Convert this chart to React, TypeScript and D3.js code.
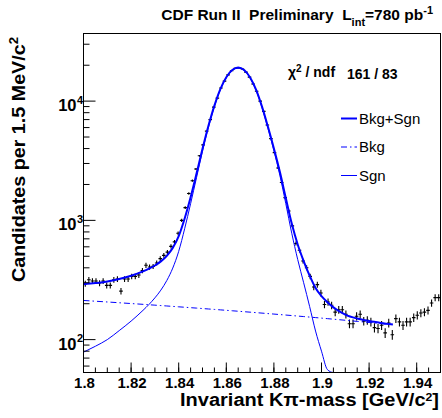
import React from "react";
import * as d3 from "d3";

// ---- data ----
const binStart = 1.8;
const binWidth = 0.0015;
const counts = [
  295, 318, 310, 310, 298, 310, 285, 285, 318, 322, 255, 322, 322, 339, 339, 348, 380, 420, 406, 411, 439, 478, 509, 542, 605,
  660, 780, 1000, 1280, 1680, 2150, 2700, 3480, 4300, 5600, 7000, 8900, 10600, 12900, 14700, 16600, 18000, 18800, 19000, 18600,
  17500, 15900, 13900, 12100, 10000, 8200, 6300, 4850, 3700, 2750, 2080, 1550, 1200, 900,
  640, 561, 456, 401, 339, 276, 289, 246, 197, 207, 194, 170, 178, 178, 163, 136, 136, 157, 163, 143, 145, 141, 126, 124, 132, 114,
  138, 110, 150, 141, 132, 141, 141, 153, 160, 167, 170, 176, 203, 225, 225,
];

const sgnMass = [
  1.8, 1.805, 1.81, 1.815, 1.82, 1.825, 1.8275, 1.83, 1.8325, 1.835, 1.8375, 1.84, 1.8425, 1.845, 1.8475, 1.85, 1.8525, 1.855,
  1.8575, 1.86, 1.8625, 1.865, 1.8675, 1.87, 1.8725, 1.875, 1.8775, 1.88, 1.8825, 1.885, 1.8875, 1.89, 1.8925, 1.895, 1.8975,
  1.9, 1.9025, 1.905, 1.9075, 1.91, 1.915, 1.92, 1.925, 1.93,
];
const sgnVals = [
  78.5, 88, 100, 119, 143, 176, 197, 224, 260, 313, 398, 550, 851, 1380, 2290, 3800, 6030, 8990,
  12450, 15700, 18070, 18920, 18040, 15640, 12320, 8830, 5920, 3840, 2390, 1380, 780, 470, 300, 190, 118,
  80, 56, 38, 26, 17, 8, 4, 2, 1,
];
const bkgMass = [1.8, 1.865, 1.93];
const bkgVals = [213, 173, 133];

const xMajorTicks = [1.8, 1.82, 1.84, 1.86, 1.88, 1.9, 1.92, 1.94];
const xTickLabels = ["1.8", "1.82", "1.84", "1.86", "1.88", "1.9", "1.92", "1.94"];
const yDecades = [2, 3, 4];
const legendItems = ["Bkg+Sgn", "Bkg", "Sgn"];

const FONT = "'Liberation Sans', Arial, Helvetica, sans-serif";
const BLUE = "#0000ff";

export default function App() {
  const L = 83.5, R = 440.5, T = 33.5, B = 372.5;
  const x = d3.scaleLinear().domain([1.8, 1.95]).range([L, R]);
  const y = d3.scaleLog().domain([53, 36900]).range([B, T]).clamp(true);

  const bkgAt = d3.scaleLinear().domain(bkgMass).range(bkgVals);
  const line = d3
    .line<[number, number]>()
    .x((d) => x(d[0]))
    .y((d) => y(d[1]))
    .curve(d3.curveMonotoneX);

  const totalPts: [number, number][] = sgnMass.map((m, i) => [m, sgnVals[i] + bkgAt(m)]);
  const sgnPts: [number, number][] = sgnMass.map((m, i) => [m, sgnVals[i]]);
  const bkgPts: [number, number][] = sgnMass.map((m) => [m, bkgAt(m)]);

  const xMinor = d3.range(0, 31).map((i) => 1.8 + i * 0.005);
  const yMinor: number[] = [];
  for (let e = 1; e <= 4; e++) for (let k = 2; k <= 9; k++) {
    const v = k * Math.pow(10, e);
    if (v >= 53 && v <= 36900) yMinor.push(v);
  }

  return (
    <svg width={442} height={418} style={{ display: "block", position: "absolute", left: 0, top: 0 }}>
      <rect x={0} y={0} width={442} height={418} fill="#fff" />
      <defs>
        <clipPath id="frameclip">
          <rect x={L} y={T} width={R - L} height={B - T + 1} />
        </clipPath>
      </defs>

      {/* data points with error bars */}
      <g stroke="#000" strokeWidth={1.1} clipPath="url(#frameclip)">
        {counts.map((n, i) => {
          const m = binStart + binWidth * (i + 0.5);
          const e = Math.sqrt(n);
          return (
            <g key={i}>
              <line x1={x(m)} x2={x(m)} y1={y(n - e)} y2={y(n + e)} />
              <line x1={x(m - binWidth / 2)} x2={x(m + binWidth / 2)} y1={y(n)} y2={y(n)} />
            </g>
          );
        })}
      </g>

      {/* fit curves */}
      <g clipPath="url(#frameclip)" fill="none">
        <path d={line(bkgPts) || ""} stroke={BLUE} strokeWidth={1} strokeDasharray="6,3,1.5,3" />
        <path d={line(sgnPts) || ""} stroke={BLUE} strokeWidth={1} />
        <path d={line(totalPts) || ""} stroke={BLUE} strokeWidth={2} />
      </g>

      {/* frame */}
      <rect x={L} y={T} width={R - L} height={B - T} fill="none" stroke="#000" strokeWidth={1} />

      {/* x axis ticks */}
      <g stroke="#000" strokeWidth={1}>
        {xMinor.map((v, i) => (
          <line key={i} x1={x(v)} x2={x(v)} y1={B} y2={B - 5} />
        ))}
        {xMajorTicks.map((v, i) => (
          <line key={"M" + i} x1={x(v)} x2={x(v)} y1={B} y2={B - 10} />
        ))}
      </g>
      <g fontFamily={FONT} fontWeight="bold" fontSize={15} textAnchor="middle">
        {xMajorTicks.map((v, i) => (
          <text key={i} x={x(v) + 1} y={388}>
            {xTickLabels[i]}
          </text>
        ))}
      </g>

      {/* y axis ticks */}
      <g stroke="#000" strokeWidth={1}>
        {yMinor.map((v, i) => (
          <line key={i} x1={L} x2={L + 6} y1={y(v)} y2={y(v)} />
        ))}
        {yDecades.map((e) => (
          <line key={"M" + e} x1={L} x2={L + 12} y1={y(Math.pow(10, e))} y2={y(Math.pow(10, e))} />
        ))}
      </g>
      <g fontFamily={FONT} fontWeight="bold">
        {yDecades.map((e) => (
          <g key={e}>
            <text x={76.5} y={y(Math.pow(10, e)) + 10} fontSize={16.5} textAnchor="end">
              10
            </text>
            <text x={77} y={y(Math.pow(10, e)) + 2.5} fontSize={11} textAnchor="start">
              {e}
            </text>
          </g>
        ))}
      </g>

      {/* axis titles */}
      <text
        x={180}
        y={406}
        fontFamily={FONT}
        fontWeight="bold"
        fontSize={18}
        textLength={259}
        lengthAdjust="spacingAndGlyphs"
      >
        Invariant Kπ-mass [GeV/c
        <tspan dy={-5.5} fontSize={11}>2</tspan>
        <tspan dy={5.5}>]</tspan>
      </text>
      <text
        transform="translate(25,282) rotate(-90)"
        fontFamily={FONT}
        fontWeight="bold"
        fontSize={18}
        textLength={245}
        lengthAdjust="spacingAndGlyphs"
      >
        Candidates per 1.5 MeV/c
        <tspan dy={-7} fontSize={12}>2</tspan>
      </text>

      {/* title */}
      <text x={433} y={20} fontFamily={FONT} fontWeight="bold" fontSize={15.5} textAnchor="end" style={{ whiteSpace: "pre" }}>
        {"CDF Run II  Preliminary  L"}
        <tspan dy={6} fontSize={11}>int</tspan>
        <tspan dy={-6}>=780 pb</tspan>
        <tspan dy={-6} fontSize={11}>-1</tspan>
      </text>

      {/* chi2 */}
      <g fontFamily={FONT} fontWeight="bold" fontSize={14}>
        <text x={288} y={77}>
          χ<tspan dy={-5} fontSize={10}>2</tspan>
          <tspan dy={5}> / ndf</tspan>
        </text>
        <text x={347} y={79}>161 / 83</text>
      </g>

      {/* legend */}
      <g fontFamily={FONT} fontSize={15}>
        {legendItems.map((lab, i) => {
          const yy = 118.5 + i * 28.5;
          return (
            <g key={lab}>
              <line
                x1={341}
                x2={357}
                y1={yy}
                y2={yy}
                stroke={BLUE}
                strokeWidth={i === 0 ? 2 : 1}
                strokeDasharray={i === 1 ? "6,3,1.5,3" : undefined}
              />
              <text x={359} y={yy + 5}>
                {lab}
              </text>
            </g>
          );
        })}
      </g>
    </svg>
  );
}
